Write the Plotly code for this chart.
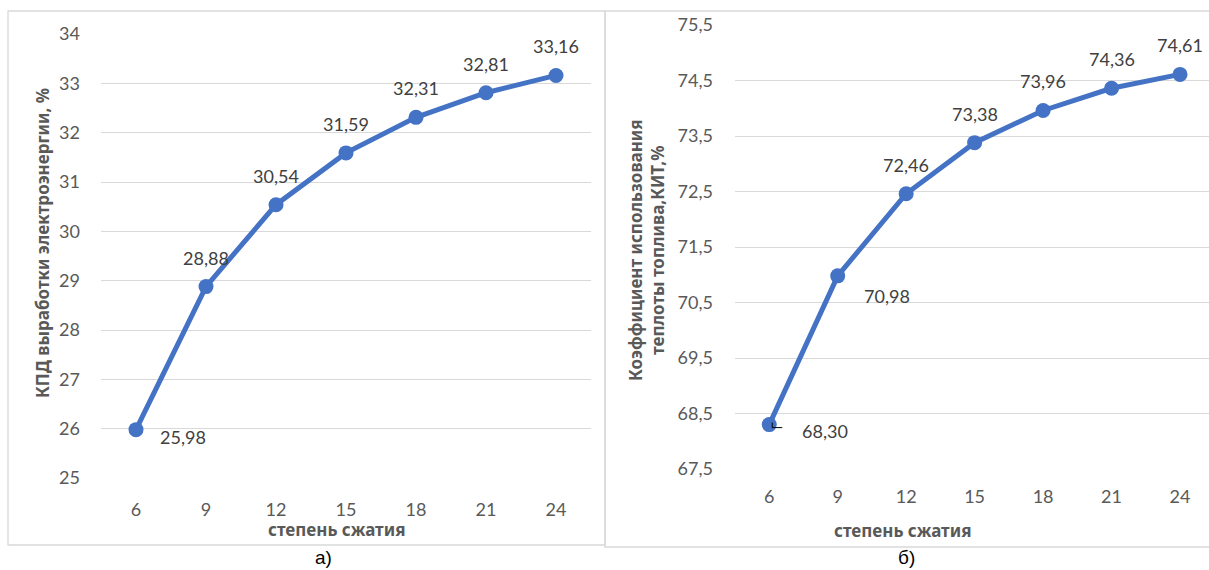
import plotly.graph_objects as go

# ---- data ----
compression = [6, 9, 12, 15, 18, 21, 24]
kpd = [25.98, 28.88, 30.54, 31.59, 32.31, 32.81, 33.16]
kit = [68.30, 70.98, 72.46, 73.38, 73.96, 74.36, 74.61]
kpd_ticks = [25, 26, 27, 28, 29, 30, 31, 32, 33, 34]
kit_ticks = [67.5, 68.5, 69.5, 70.5, 71.5, 72.5, 73.5, 74.5, 75.5]
x_title = "степень сжатия"
y1_title = "КПД выработки электроэнергии, %"
y2_title = "Коэффициент использования<br>теплоты топлива,КИТ,%"
captions = ["а)", "б)"]

def fmt(v, nd):
    return f"{v:.{nd}f}".replace(".", ",")

W, H = 1209, 570
BLUE = "#4472C4"
GRID = "#d9d9d9"
TICKC = "#595959"
LABC = "#404040"
NUMFONT = "Lato, Noto Sans, sans-serif"
TXTFONT = "Noto Sans, sans-serif"

fig = go.Figure()
fig.add_trace(go.Scatter(x=compression, y=kpd, mode="lines+markers",
                         line=dict(color=BLUE, width=5),
                         marker=dict(color=BLUE, size=15),
                         xaxis="x", yaxis="y", hoverinfo="skip"))
fig.add_trace(go.Scatter(x=compression, y=kit, mode="lines+markers",
                         line=dict(color=BLUE, width=5),
                         marker=dict(color=BLUE, size=15),
                         xaxis="x2", yaxis="y2", hoverinfo="skip"))

def px(xp):
    return xp / W

def py(yp):
    return 1 - yp / H

axis_common = dict(showline=False, zeroline=False, ticks="", automargin=False,
                   tickfont=dict(family=NUMFONT, size=18, color=TICKC))

fig.update_layout(
    template="none",
    width=W, height=H, margin=dict(l=0, r=0, t=0, b=0, pad=0, autoexpand=False),
    paper_bgcolor="white", plot_bgcolor="white", showlegend=False,
    xaxis=dict(domain=[px(101), px(591)], range=[4.5, 25.5], tickvals=compression,
               showgrid=False, anchor="y", ticklabelstandoff=19, **axis_common),
    yaxis=dict(domain=[py(478), py(34)], range=[25, 34], tickvals=kpd_ticks,
               ticktext=[str(v) for v in kpd_ticks], showgrid=True, gridcolor=GRID,
               gridwidth=1.3, anchor="x", ticklabelstandoff=20, **axis_common),
    xaxis2=dict(domain=[px(735), 1.0], range=[4.5, 25.27], tickvals=compression,
                showgrid=False, anchor="y2", ticklabelstandoff=15, **axis_common),
    yaxis2=dict(domain=[py(469), py(25)], range=[67.5, 75.5], tickvals=kit_ticks,
                ticktext=[fmt(v, 1) for v in kit_ticks], showgrid=True, gridcolor=GRID,
                gridwidth=1.3, anchor="x2", ticklabelstandoff=21, **axis_common),
)

anns = []
# data labels, left chart
for i, (x, y) in enumerate(zip(compression, kpd)):
    if i == 0:
        xs, ys = 47, -7
    else:
        xs, ys = 0, 29
    anns.append(dict(x=x, y=y, xref="x", yref="y", text=fmt(y, 2), showarrow=False,
                     xshift=xs, yshift=ys, xanchor="center", yanchor="middle",
                     font=dict(family=NUMFONT, size=18, color=LABC)))
# data labels, right chart
for i, (x, y) in enumerate(zip(compression, kit)):
    if i == 0:
        xs, ys = 56, -6
    elif i == 1:
        xs, ys = 49, -20
    else:
        xs, ys = 0, 29
    anns.append(dict(x=x, y=y, xref="x2", yref="y2", text=fmt(y, 2), showarrow=False,
                     xshift=xs, yshift=ys, xanchor="center", yanchor="middle",
                     font=dict(family=NUMFONT, size=18, color=LABC)))

def note(xp, yp, text, size, color, family, angle=0):
    return dict(x=px(xp), y=py(yp), xref="paper", yref="paper", text=text,
                textangle=angle, showarrow=False, xanchor="center", yanchor="middle",
                font=dict(family=family, size=size, color=color))

# axis titles
anns.append(note(42, 243, f"<b>{y1_title}</b>", 17, TICKC, TXTFONT, -90))
anns.append(note(646, 250, f"<b>{y2_title}</b>", 17, TICKC, TXTFONT, -90))
anns.append(note(336, 529, f"<b>{x_title}</b>", 17, TICKC, TXTFONT))
anns.append(note(902, 530, f"<b>{x_title}</b>", 17, TICKC, TXTFONT))
# captions
anns.append(note(323, 557, captions[0], 19, "black", "Liberation Sans, Arial"))
anns.append(note(906, 557, captions[1], 19, "black", "Liberation Sans, Arial"))
fig.update_layout(annotations=anns)

shapes = [
    dict(type="rect", xref="paper", yref="paper", x0=px(8), x1=px(605), y0=py(545), y1=py(11),
         line=dict(color=GRID, width=1.3), layer="below"),
    dict(type="rect", xref="paper", yref="paper", x0=px(605), x1=px(1215), y0=py(547), y1=py(11),
         line=dict(color=GRID, width=1.3), layer="below"),
    # leader line for first label on right chart
    dict(type="line", xref="x2", yref="y2", xsizemode="pixel", ysizemode="pixel",
         xanchor=compression[0], yanchor=kit[0], x0=3, x1=13, y0=-3, y1=-3,
         line=dict(color="black", width=1)),
    dict(type="line", xref="x2", yref="y2", xsizemode="pixel", ysizemode="pixel",
         xanchor=compression[0], yanchor=kit[0], x0=3, x1=3, y0=-3, y1=2,
         line=dict(color="black", width=1)),
]
fig.update_layout(shapes=shapes)

fig.write_html("out.html")
